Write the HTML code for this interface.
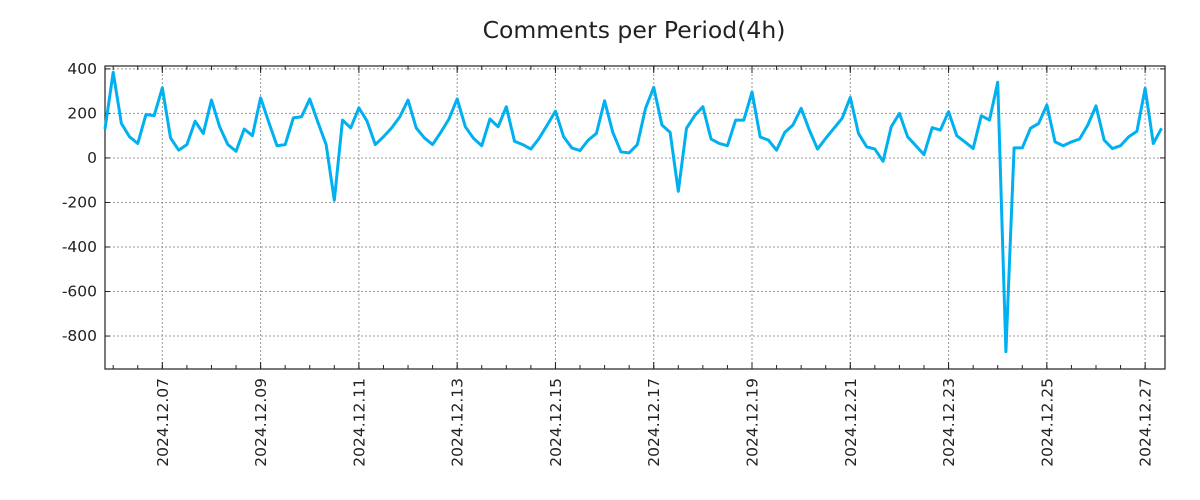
<!DOCTYPE html>
<html><head><meta charset="utf-8"><style>
body{margin:0;background:#fff}
svg{display:block;font-family:"DejaVu Sans","Liberation Sans",sans-serif}
</style></head><body>
<svg id="chart" width="1200" height="500" xmlns="http://www.w3.org/2000/svg">
<text x="634" y="38" text-anchor="middle" font-size="23.5" fill="#222">Comments per Period(4h)</text>
<g id="grid"></g><g id="axes"></g><g id="series"></g>
</svg>
<script>
const values=[130,385,155,95,65,195,190,315,90,35,60,165,110,260,140,60,30,130,100,270,160,55,60,180,185,265,160,60,-190,170,135,225,165,60,95,135,185,260,135,90,60,115,175,265,140,88,55,175,140,230,75,60,40,88,148,210,95,45,33,80,110,257,115,27,23,60,223,317,148,115,-150,133,190,230,85,65,55,170,170,296,94,80,35,115,148,223,125,40,88,133,178,272,110,50,40,-15,140,200,95,55,15,136,125,208,100,72,42,190,170,340,-870,45,45,133,155,238,72,55,72,85,148,234,80,42,55,95,120,313,65,133];
const dateLabels=["2024.12.07","2024.12.09","2024.12.11","2024.12.13","2024.12.15","2024.12.17","2024.12.19","2024.12.21","2024.12.23","2024.12.25","2024.12.27"];
const yTicks=[400,200,0,-200,-400,-600,-800];
const L=105,R=1165,T=66,B=369,step=8.19,yMax=413,yMin=-948;
const NS="http://www.w3.org/2000/svg";
const xs=i=>L+i*step;
const ys=v=>T+(yMax-v)/(yMax-yMin)*(B-T);
function mk(tag,attrs,parent){const e=document.createElementNS(NS,tag);for(const k in attrs)e.setAttribute(k,attrs[k]);parent.appendChild(e);return e;}
const grid=document.getElementById('grid'),axes=document.getElementById('axes'),series=document.getElementById('series');
yTicks.forEach(v=>{const y=ys(v);
 const g=mk('line',{x1:L,x2:R,y1:y,y2:y,stroke:'#999','stroke-dasharray':'2,2'},grid);
 
 
 mk('line',{x1:L,x2:L+5,y1:y,y2:y,stroke:'#222'},axes);
 mk('line',{x1:R,x2:R-5,y1:y,y2:y,stroke:'#222'},axes);
 const t=mk('text',{x:97,y:y+5,'text-anchor':'end','font-size':15.5,fill:'#222'},axes);t.textContent=v;
 
 
});
for(let h=1;h*3<=130;h++){const x=xs(h*3-2);if(x>R)break;
 mk('line',{x1:x,x2:x,y1:B,y2:B-4,stroke:'#222'},axes);mk('line',{x1:x,x2:x,y1:T,y2:T+4,stroke:'#222'},axes);}
dateLabels.forEach((d,k)=>{const x=xs(7+k*12);
 const g=mk('line',{x1:x,x2:x,y1:T,y2:B,stroke:'#999','stroke-dasharray':'2,2'},grid);
 
 
 mk('line',{x1:x,x2:x,y1:B,y2:B-7,stroke:'#222'},axes);mk('line',{x1:x,x2:x,y1:T,y2:T+7,stroke:'#222'},axes);
 const t=mk('text',{x:0,y:0,'text-anchor':'end','font-size':15.5,fill:'#222',transform:`translate(${x+5.5},378) rotate(-90)`},axes);t.textContent=d;
 
 
});
const fr=mk('rect',{x:L,y:T,width:R-L,height:B-T,fill:'none',stroke:'#222','stroke-width':1.2},axes);


const p=mk('polyline',{points:values.map((v,i)=>xs(i)+','+ys(v)).join(' '),fill:'none',stroke:'#00b0f0','stroke-width':3,'stroke-linejoin':'round'},series);


</script>
</body></html>
